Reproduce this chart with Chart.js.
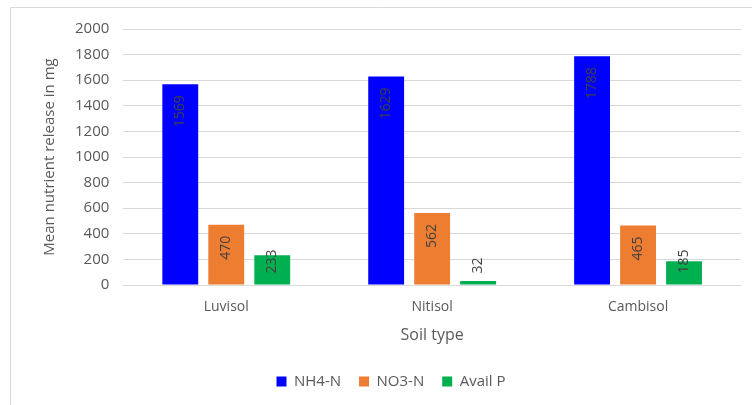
<!DOCTYPE html>
<html>
<head>
<meta charset="utf-8">
<script src="https://cdn.jsdelivr.net/npm/chart.js@4/dist/chart.umd.min.js"></script>
<style>
    html, body { margin: 0; padding: 0; background: #fff; }
    #wrap { width: 752px; height: 405px; position: relative; }
</style>
</head>
<body>
<div id="wrap"><canvas id="chart"></canvas></div>
<script>
const soils = ['Luvisol', 'Nitisol', 'Cambisol'];
const nh4 = [1569, 1629, 1788];
const no3 = [470, 562, 465];
const availP = [233, 32, 185];
const seriesNames = ['NH4-N', 'NO3-N', 'Avail P'];
const seriesColors = ['#0000FF', '#ED7D31', '#00B050'];

const FONT = "'Open Sans', sans-serif";
const ctx = document.querySelector('#chart').getContext('2d');

// light frame round the chart, like the Excel chart area
const framePlugin = {
    id: 'frame',
    beforeDraw(chart) {
        const c = chart.ctx;
        c.save();
        c.strokeStyle = '#d9d9d9';
        c.lineWidth = 1;
        c.beginPath();
        c.moveTo(10.5, chart.height + 1);
        c.lineTo(10.5, 7.5);
        c.lineTo(chart.width + 1, 7.5);
        c.stroke();
        c.restore();
    }
};

// rotated value labels (read bottom to top), inside end, kept off the axis line
const valueLabels = {
    id: 'valueLabels',
    afterDatasetsDraw(chart) {
        const c = chart.ctx;
        c.save();
        c.font = `14px ${FONT}`;
        c.fillStyle = '#404040';
        c.textAlign = 'right';
        c.textBaseline = 'middle';
        chart.data.datasets.forEach((ds, i) => {
            const meta = chart.getDatasetMeta(i);
            meta.data.forEach((bar, j) => {
                const txt = String(ds.data[j]);
                const w = c.measureText(txt).width;
                const top = Math.min(bar.y + 11, bar.base - 11 - w);
                c.save();
                c.translate(bar.x, top);
                c.rotate(-Math.PI / 2);
                c.fillText(txt, 0, 0);
                c.restore();
            });
        });
        c.restore();
    }
};

new Chart(ctx, {
    type: 'bar',
    data: {
        labels: soils,
        datasets: [nh4, no3, availP].map((d, i) => ({
            label: seriesNames[i],
            data: d,
            backgroundColor: seriesColors[i],
            borderWidth: 0,
            categoryPercentage: 0.67,
            barPercentage: 0.78
        }))
    },
    options: {
        responsive: true,
        maintainAspectRatio: false,
        animation: false,
        layout: { padding: { left: 41, right: 11, top: 29, bottom: 6 } },
        scales: {
            x: {
                grid: { display: false },
                border: { display: false },
                ticks: { color: '#595959', font: { family: FONT, size: 14 }, padding: 6 },
                title: {
                    display: true,
                    text: 'Soil type',
                    color: '#595959',
                    font: { family: FONT, size: 16 },
                    padding: { top: 4, bottom: 11 }
                }
            },
            y: {
                min: 0,
                max: 2000,
                ticks: {
                    stepSize: 200,
                    color: '#595959',
                    font: { family: FONT, size: 15 },
                    padding: 14,
                    callback: (v) => String(v)
                },
                grid: { color: '#d9d9d9', drawTicks: false },
                border: { display: false },
                title: {
                    display: true,
                    text: 'Mean nutrient release in mg',
                    color: '#595959',
                    font: { family: FONT, size: 15 },
                    padding: { top: 0, bottom: 2 }
                }
            }
        },
        plugins: {
            legend: {
                position: 'bottom',
                labels: {
                    color: '#595959',
                    font: { family: FONT, size: 15 },
                    boxWidth: 10,
                    boxHeight: 10,
                    padding: 18
                }
            },
            tooltip: { enabled: false }
        }
    },
    plugins: [framePlugin, valueLabels]
});
</script>
</body>
</html>
